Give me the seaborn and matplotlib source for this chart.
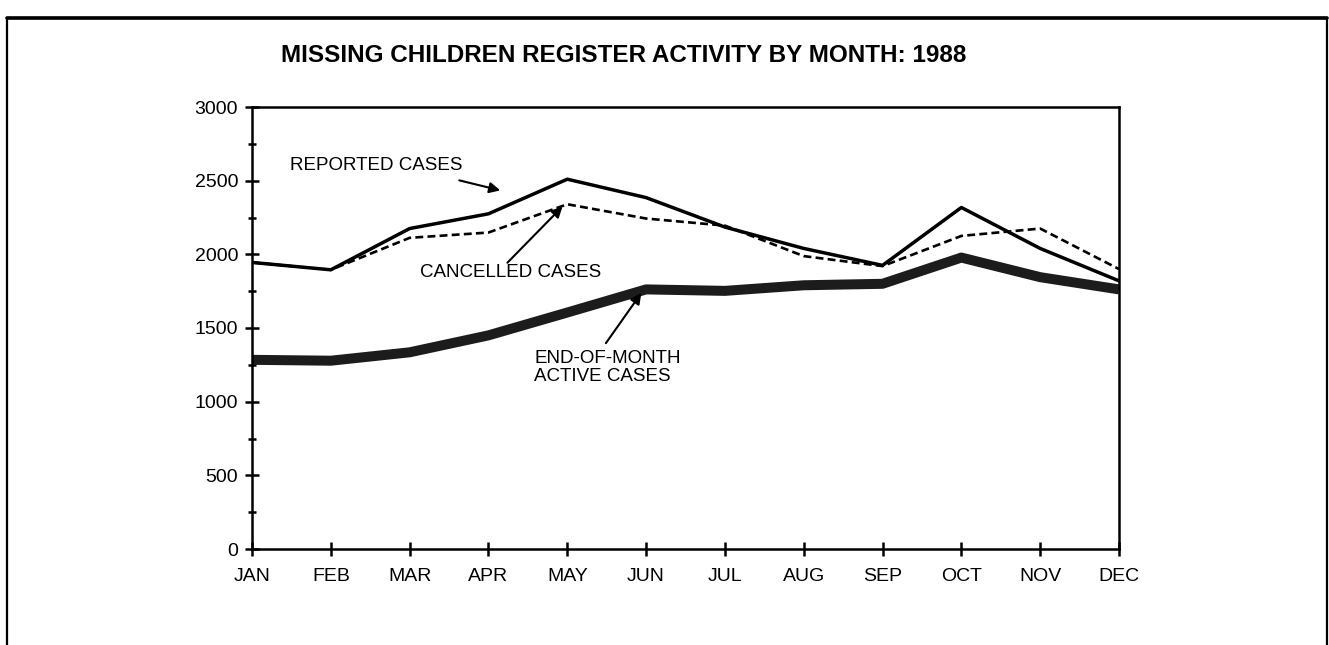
import matplotlib
matplotlib.use("Agg")
import matplotlib.pyplot as plt
from matplotlib.patches import Rectangle
from matplotlib.ticker import MultipleLocator
import seaborn as sns
import pandas as pd

months = ["JAN", "FEB", "MAR", "APR", "MAY", "JUN", "JUL", "AUG", "SEP", "OCT", "NOV", "DEC"]
reported = [1945, 1895, 2175, 2275, 2510, 2385, 2185, 2040, 1925, 2318, 2040, 1820]
cancelled = [1945, 1895, 2112, 2148, 2340, 2243, 2195, 1988, 1920, 2125, 2175, 1900]
active = [1284, 1278, 1335, 1450, 1605, 1762, 1752, 1790, 1800, 1978, 1845, 1762]
title = "MISSING CHILDREN REGISTER ACTIVITY BY MONTH: 1988"

sns.set_theme(style="white")
plt.rcParams['font.family'] = ['Liberation Sans', 'DejaVu Sans']
plt.rcParams['text.color'] = 'black'
plt.rcParams['xtick.color'] = 'black'
plt.rcParams['ytick.color'] = 'black'

df = pd.DataFrame({"month": months, "idx": range(len(months)),
                   "reported": reported, "cancelled": cancelled, "active": active})

fig = plt.figure(figsize=(13.29, 6.45), dpi=100)
ax = fig.add_axes([252/1329, 1-549/645, (1119-252)/1329, (549-107)/645])

sns.lineplot(data=df, x="idx", y="active", ax=ax, color="#1c1c1c", lw=7.2,
             solid_joinstyle="round", solid_capstyle="butt")
sns.lineplot(data=df, x="idx", y="cancelled", ax=ax, color="black", lw=1.9,
             linestyle=(0, (3, 1.6)))
sns.lineplot(data=df, x="idx", y="reported", ax=ax, color="black", lw=2.5)

ax.set_xlim(0, len(months) - 1)
ax.set_ylim(0, 3000)
ax.set_xticks(range(len(months)))
ax.set_xticklabels(months)
ax.yaxis.set_major_locator(MultipleLocator(500))
ax.yaxis.set_minor_locator(MultipleLocator(250))
ax.set_xlabel("")
ax.set_ylabel("")
for s in ax.spines.values():
    s.set_color("black")
    s.set_linewidth(1.8)
ax.tick_params(axis="both", which="major", direction="inout", length=10, width=1.8,
               colors="black", labelsize=14, left=True, bottom=True)
ax.tick_params(axis="y", which="minor", direction="inout", length=6, width=1.8,
               colors="black", left=True)
ax.tick_params(axis="x", pad=9)
ax.tick_params(axis="y", pad=5)

fs = 13.5
arrow = dict(arrowstyle="-|>", color="black", lw=1.5, mutation_scale=16, shrinkA=0, shrinkB=0)
ax.text(0.48, 2604, "REPORTED CASES", fontsize=fs, ha="left", va="center")
ax.annotate("", xy=(3.15, 2434), xytext=(2.63, 2502), arrowprops=arrow)
ax.text(2.13, 1875, "CANCELLED CASES", fontsize=fs, ha="left", va="center")
ax.annotate("", xy=(3.94, 2325), xytext=(3.24, 1943), arrowprops=arrow)
ax.text(3.58, 1234, "END-OF-MONTH\nACTIVE CASES", fontsize=fs, ha="left", va="center",
        linespacing=1.1)
ax.annotate("", xy=(4.94, 1738), xytext=(4.49, 1397), arrowprops=arrow)

fig.text(624/1329, 1-55/645, title, ha="center", va="center", fontsize=17.5,
         fontweight="bold", color="black")

# page frame
fig.patches.append(Rectangle((7/1329, -0.05), (1327-7)/1329, 1.05-18/645,
                             transform=fig.transFigure, fill=False, ec="black", lw=1.6))
fig.lines.append(plt.Line2D([7/1329, 1327/1329], [1-18/645, 1-18/645],
                            transform=fig.transFigure, color="black", lw=2.6))

fig.savefig("out.png", dpi=100)
